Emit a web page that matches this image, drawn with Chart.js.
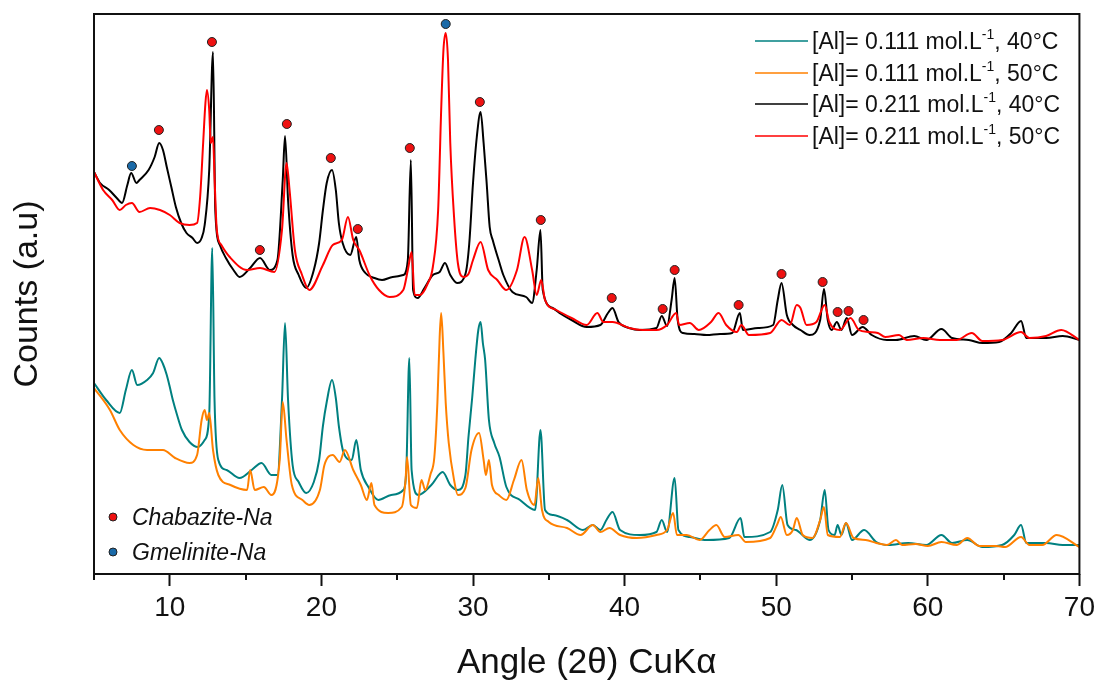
<!DOCTYPE html>
<html>
<head>
<meta charset="utf-8">
<script src="https://cdn.jsdelivr.net/npm/chart.js@4/dist/chart.umd.min.js"></script>
<style>
  html, body { margin: 0; padding: 0; background: #fff; }
  #xrd { display: block; }
</style>
</head>
<body>
<canvas id="xrd" width="1100" height="686"></canvas>
<script>
// XRD patterns: [2theta (deg), counts in a.u.], the 0.211 patterns sit on an offset
var al111_40 = [[5.0,191],[5.8,174],[6.7,161],[7.1,184],[7.5,204],[7.85,189],[8.5,194],[8.9,201],[9.3,216],[9.55,210],
  [9.8,199],[10.0,187],[10.2,174],[10.5,158],[10.8,144],[11.3,132],[11.85,127],[12.3,134],[12.6,159],[12.8,326],
  [12.95,174],[13.2,114],[13.75,104],[14.6,96],[15.4,104],[16.05,111],[16.7,99],[17.1,99],[17.4,174],[17.6,251],
  [17.8,174],[18.1,109],[18.5,92],[19.0,81],[19.5,92],[19.85,114],[20.1,148],[20.35,172],[20.7,194],[20.95,176],
  [21.15,148],[21.45,122],[22.0,114],[22.3,134],[22.6,104],[23.1,87],[23.75,74],[24.6,79],[25.4,84],[25.6,104],
  [25.8,216],[25.95,104],[26.4,79],[27.25,89],[28.0,102],[28.5,89],[29.0,84],[29.5,99],[29.7,137],[29.95,177],
  [30.15,214],[30.35,244],[30.5,252],[30.65,231],[30.8,214],[31.05,154],[31.4,131],[31.75,117],[32.2,87],[33.1,74],
  [34.1,64],[34.45,144],[34.75,64],[35.3,59],[36.2,54],[37.25,44],[37.9,49],[38.4,44],[38.8,54],[39.2,62],
  [39.7,44],[41.0,39],[42.1,42],[42.45,54],[42.8,42],[43.3,96],[43.55,44],[44.3,37],[45.4,34],[46.9,36],
  [47.65,56],[47.9,37],[49.6,42],[50.1,64],[50.4,89],[50.75,49],[51.3,44],[52.2,34],[52.9,54],[53.2,84],
  [53.45,44],[53.85,39],[54.05,49],[54.3,39],[54.6,51],[55.0,34],[55.8,44],[56.6,32],[57.4,29],[58.7,31],
  [59.9,29],[60.9,39],[61.6,31],[62.6,34],[63.6,27],[64.9,29],[65.7,39],[66.15,49],[66.5,31],[67.8,31],
  [68.9,29],[70.0,29]];

var al111_50 = [[5.0,186],[6.05,164],[6.7,144],[7.6,129],[8.5,124],[9.55,124],[10.35,116],[11.3,111],[11.8,119],[12.1,154],
  [12.3,164],[12.45,154],[12.6,161],[12.85,124],[13.2,99],[14.0,89],[15.1,84],[15.3,104],[15.6,84],[16.2,87],
  [16.7,79],[17.25,114],[17.45,172],[17.7,134],[18.05,89],[18.75,74],[19.2,69],[19.9,84],[20.2,109],[20.75,119],
  [21.2,112],[21.55,124],[22.1,104],[22.6,89],[23.0,74],[23.3,91],[23.5,69],[24.4,61],[25.3,67],[25.55,94],
  [25.65,117],[25.9,69],[26.3,66],[26.6,94],[26.85,84],[27.2,100],[27.45,117],[27.65,171],[27.8,237],[27.9,261],
  [28.05,221],[28.2,171],[28.4,131],[28.75,94],[29.0,79],[29.5,86],[29.9,124],[30.4,141],[30.7,114],[30.85,99],
  [31.05,114],[31.25,89],[31.7,79],[32.2,74],[32.7,94],[33.2,114],[33.55,84],[34.05,69],[34.3,96],[34.55,64],
  [35.0,52],[36.2,46],[37.1,39],[37.9,49],[38.4,42],[39.0,46],[39.7,39],[40.8,36],[42.1,39],[42.8,44],
  [43.2,61],[43.45,39],[44.1,39],[44.95,34],[45.6,44],[46.05,49],[46.6,37],[47.5,39],[48.0,32],[49.6,36],
  [50.05,49],[50.3,57],[50.7,39],[51.1,44],[51.35,56],[51.75,39],[52.4,36],[52.9,54],[53.15,67],[53.4,39],
  [54.2,37],[54.6,51],[55.1,36],[55.9,34],[56.6,31],[57.3,29],[57.9,34],[58.3,29],[59.2,30],[60.0,28],
  [60.9,32],[61.9,29],[62.6,36],[63.4,28],[64.5,28],[65.1,27],[66.15,37],[66.7,29],[67.55,29],[68.5,39],
  [70.0,27]];

var al211_40 = [[5.0,402],[5.4,391],[6.0,384],[6.5,376],[6.85,371],[7.2,389],[7.45,401],[7.8,391],[8.0,394],[8.6,404],
  [9.0,417],[9.3,431],[9.55,424],[9.8,407],[10.1,387],[10.4,367],[10.75,351],[11.1,341],[11.5,336],[11.8,331],
  [12.1,336],[12.3,349],[12.6,404],[12.85,522],[13.0,364],[13.3,329],[13.7,316],[14.2,304],[14.6,297],[15.3,306],
  [15.95,316],[16.6,304],[17.1,314],[17.45,394],[17.6,438],[17.8,374],[18.1,319],[18.5,299],[19.0,286],[19.5,304],
  [19.85,331],[20.1,364],[20.35,391],[20.7,404],[20.95,384],[21.15,351],[21.4,331],[21.9,319],[22.3,337],[22.5,314],
  [22.9,301],[23.5,296],[24.0,294],[24.7,297],[25.4,299],[25.7,314],[25.9,414],[26.05,284],[26.35,276],[26.8,286],
  [27.35,299],[27.8,302],[28.15,311],[28.5,299],[28.95,291],[29.5,300],[29.75,330],[30.0,391],[30.25,437],[30.5,462],
  [30.7,431],[30.9,391],[31.1,347],[31.3,334],[31.75,311],[32.0,299],[32.6,282],[33.5,277],[33.9,271],[34.2,304],
  [34.45,344],[34.6,284],[35.25,266],[35.7,261],[36.5,254],[37.5,247],[38.4,249],[38.9,261],[39.2,266],[39.6,252],
  [40.3,246],[41.0,244],[42.1,246],[42.45,258],[42.8,248],[43.1,274],[43.3,296],[43.5,254],[43.85,241],[44.6,240],
  [45.4,239],[46.3,240],[47.1,241],[47.6,261],[47.8,244],[48.8,246],[49.8,249],[50.1,274],[50.35,291],[50.7,259],
  [51.1,249],[51.6,244],[52.2,239],[52.9,254],[53.15,285],[53.4,254],[53.65,244],[54.0,252],[54.3,244],[54.65,256],
  [55.0,239],[55.7,247],[56.3,239],[57.3,234],[57.9,234],[59.1,238],[59.9,234],[60.9,245],[61.6,236],[62.7,234],
  [63.6,231],[64.7,232],[65.5,241],[66.15,253],[66.5,236],[67.8,236],[68.9,238],[70.0,234]];

var al211_50 = [[5.0,402],[5.6,384],[6.2,374],[6.7,364],[7.1,369],[7.5,371],[8.0,362],[8.7,366],[9.35,364],[10.0,359],
  [10.65,351],[11.3,349],[11.8,351],[12.0,377],[12.2,431],[12.35,471],[12.45,484],[12.6,464],[12.7,431],[12.85,437],
  [12.95,397],[13.1,344],[13.4,329],[13.95,317],[15.1,304],[15.95,306],[16.9,302],[17.4,344],[17.7,411],[17.9,384],
  [18.25,324],[18.7,300],[19.2,284],[20.1,309],[20.75,329],[21.35,334],[21.75,357],[22.1,334],[22.5,324],[23.2,298],
  [23.8,284],[24.5,277],[25.4,284],[25.7,304],[25.95,322],[26.15,279],[26.5,279],[27.0,290],[27.35,307],[27.7,364],
  [27.9,464],[28.05,524],[28.2,541],[28.35,514],[28.5,431],[28.75,357],[29.0,311],[29.35,297],[29.7,300],[30.0,314],
  [30.5,332],[31.0,304],[31.6,294],[32.2,284],[32.9,304],[33.4,337],[33.9,304],[34.2,279],[34.5,294],[34.75,274],
  [35.5,264],[36.5,256],[37.5,249],[38.2,261],[38.6,252],[39.2,252],[40.3,246],[41.2,244],[42.1,244],[42.8,249],
  [43.4,261],[43.6,249],[44.3,251],[44.9,244],[45.7,252],[46.2,261],[46.7,249],[47.4,242],[47.7,249],[48.2,239],
  [49.6,241],[50.35,254],[50.9,249],[51.35,269],[51.6,266],[52.0,249],[52.65,252],[53.2,269],[53.5,252],[54.2,244],
  [54.9,256],[55.45,244],[56.1,242],[56.7,241],[57.2,237],[58.1,239],[58.6,234],[59.7,236],[60.8,234],[61.9,234],
  [62.9,241],[63.6,233],[64.9,234],[66.15,242],[66.7,236],[67.8,238],[68.8,244],[70.0,234]];

// phase markers placed above the 0.211 patterns
var chabazitePeaks = [[9.28,444],[12.78,532],[15.94,324],[17.72,450],[20.62,416],[22.4,345],[25.83,426],[30.45,472],
  [34.47,354],[39.15,276],[42.51,265],[43.3,304],[47.52,269],[50.35,300],[53.06,292],[54.05,262],[54.77,263],[55.76,254]];
var gmelinitePeaks = [[7.5,408],[28.2,550]];

var seriesNames = ['[Al]= 0.111 mol.L', '[Al]= 0.111 mol.L', '[Al]= 0.211 mol.L', '[Al]= 0.211 mol.L'];
var seriesTemps = [', 40°C', ', 50°C', ', 40°C', ', 50°C'];
var seriesColors = ['#008080', '#ff8000', '#000000', '#ff0000'];
var phaseNames = ['Chabazite-Na', 'Gmelinite-Na'];
var phaseColors = ['#ee1111', '#1a6aa8'];

var angleTicks = [10, 20, 30, 40, 50, 60, 70];
var minorTicks = [5, 15, 25, 35, 45, 55, 65];

function toPoints(arr) {
  return arr.map(function (p) { return { x: p[0], y: p[1] }; });
}

function lineSet(data, i, order) {
  return {
    data: toPoints(data),
    borderColor: seriesColors[i],
    borderWidth: 2,
    pointRadius: 0,
    cubicInterpolationMode: 'monotone',
    fill: false,
    order: order
  };
}

function markerSet(data, color) {
  return {
    data: toPoints(data),
    showLine: false,
    pointRadius: 4.5,
    pointBackgroundColor: color,
    pointBorderColor: '#222',
    pointBorderWidth: 1,
    order: 0
  };
}

var FONT = "'Liberation Sans', Arial, sans-serif";

// frame, minor ticks and both legends
var decorPlugin = {
  id: 'decor',
  afterDraw: function (chart) {
    var ctx = chart.ctx, a = chart.chartArea, xs = chart.scales.x;
    ctx.save();
    ctx.strokeStyle = '#111';
    ctx.lineWidth = 2;
    ctx.strokeRect(a.left, a.top, a.right - a.left, a.bottom - a.top);

    minorTicks.forEach(function (v) {
      var px = Math.round(xs.getPixelForValue(v));
      ctx.beginPath();
      ctx.moveTo(px, a.bottom);
      ctx.lineTo(px, a.bottom + 6);
      ctx.stroke();
    });

    // series legend, top right
    var lx = 755, rowY = [41, 73, 104, 136];
    for (var i = 0; i < 4; i++) {
      var y = rowY[i];
      ctx.strokeStyle = seriesColors[i];
      ctx.lineWidth = 1.7;
      ctx.beginPath();
      ctx.moveTo(lx, y);
      ctx.lineTo(lx + 53, y);
      ctx.stroke();

      ctx.fillStyle = '#111';
      ctx.textBaseline = 'alphabetic';
      ctx.textAlign = 'left';
      var tx = lx + 57;
      ctx.font = '23px ' + FONT;
      ctx.fillText(seriesNames[i], tx, y + 8);
      tx += ctx.measureText(seriesNames[i]).width;
      ctx.font = '14px ' + FONT;
      ctx.fillText('-1', tx, y - 2);
      tx += ctx.measureText('-1').width;
      ctx.font = '23px ' + FONT;
      ctx.fillText(seriesTemps[i], tx, y + 8);
    }

    // phase legend, bottom left
    var py = [517, 552];
    for (var j = 0; j < 2; j++) {
      ctx.beginPath();
      ctx.arc(113, py[j], 4, 0, Math.PI * 2);
      ctx.fillStyle = phaseColors[j];
      ctx.fill();
      ctx.lineWidth = 1;
      ctx.strokeStyle = '#222';
      ctx.stroke();
      ctx.fillStyle = '#111';
      ctx.font = 'italic 23px ' + FONT;
      ctx.fillText(phaseNames[j], 132, py[j] + 8);
    }
    ctx.restore();
  }
};

new Chart(document.getElementById('xrd'), {
  type: 'line',
  data: {
    datasets: [
      markerSet(chabazitePeaks, phaseColors[0]),
      markerSet(gmelinitePeaks, phaseColors[1]),
      lineSet(al211_50, 3, 1),
      lineSet(al211_40, 2, 2),
      lineSet(al111_50, 1, 3),
      lineSet(al111_40, 0, 4)
    ]
  },
  options: {
    responsive: false,
    animation: false,
    layout: { padding: { top: 14, right: 20, left: 0, bottom: 0 } },
    plugins: { legend: { display: false }, tooltip: { enabled: false } },
    scales: {
      x: {
        type: 'linear',
        min: 5,
        max: 70,
        afterBuildTicks: function (s) { s.ticks = angleTicks.map(function (v) { return { value: v }; }); },
        afterFit: function (s) { s.height = 112; },
        grid: { display: true, drawOnChartArea: false, drawTicks: true, tickLength: 12, tickWidth: 2, tickColor: '#111' },
        border: { display: false },
        ticks: { color: '#111', font: { family: FONT, size: 28 }, padding: 5, maxRotation: 0 },
        title: { display: true, text: 'Angle (2θ) CuKα', color: '#111', font: { family: FONT, size: 35 }, padding: { top: 0, bottom: 2 } }
      },
      y: {
        min: 0,
        max: 560,
        afterFit: function (s) { s.width = 94; },
        grid: { display: false },
        border: { display: false },
        ticks: { display: false },
        title: { display: true, text: 'Counts (a.u)', color: '#111', font: { family: FONT, size: 34 }, padding: { top: 7, bottom: 0 } }
      }
    }
  },
  plugins: [decorPlugin]
});
</script>
</body>
</html>
